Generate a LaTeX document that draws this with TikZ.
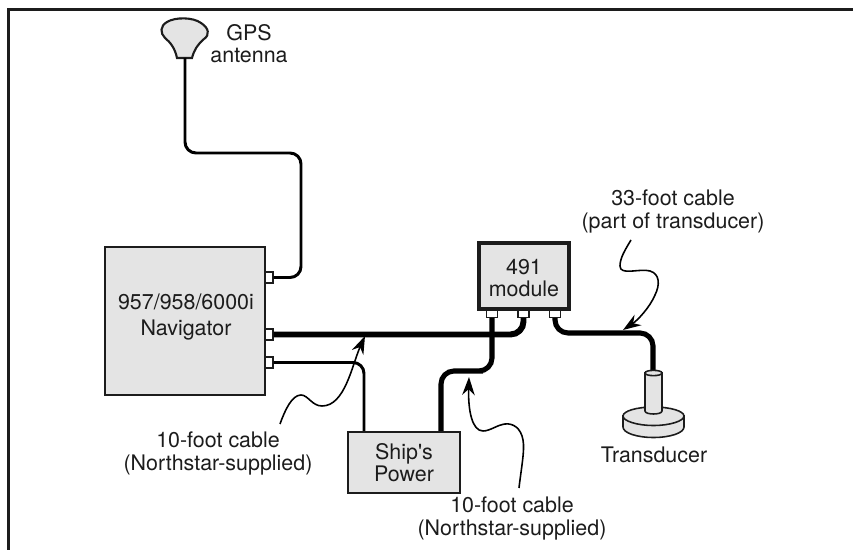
\documentclass[tikz,border=0pt]{standalone}
\usepackage{fontspec}
\setmainfont{TeX Gyre Heros}
\usetikzlibrary{arrows.meta}
\definecolor{boxgray}{HTML}{E4E4E4}
\definecolor{inkblack}{HTML}{1C1C1C}
\tikzset{
  lab/.style       = {align=center, inner sep=0pt, text=inkblack,
                      font=\fontsize{12.2}{12.6}\selectfont},
  unit/.style      = {lab, draw=inkblack, fill=boxgray, line width=0.9pt},
  port/.style      = {draw=inkblack, fill=white, line width=0.8pt, inner sep=0pt},
  navport/.style   = {port, minimum width=1.6mm, minimum height=2.2mm},
  modport/.style   = {port, minimum width=2.2mm, minimum height=1.4mm},
  thincable/.style = {draw=black, line width=1.7pt, rounded corners=2.2mm},
  thickcable/.style= {draw=black, line width=3.4pt, rounded corners=2.6mm},
  midcable/.style  = {draw=black, line width=2.9pt, rounded corners=2.6mm},
  lead/.style      = {draw=black, line width=0.9pt,
                      -{Stealth[length=3.6mm,width=2.5mm]}},
  part/.style      = {draw=inkblack, fill=boxgray, line width=0.9pt},
}

\begin{document}
\begin{tikzpicture}[x=0.02cm, y=-0.02cm]
\useasboundingbox (0,0) rectangle (853,550);
\draw[inkblack, line width=1.7pt] (8.5,550) -- (8.5,9.5) -- (853,9.5);

\node[unit, minimum width=3.2cm, minimum height=2.96cm] (nav) at (185,321) {};
\node[lab] (navlab) at (186,317) {957/958/6000i\\[2.2pt]Navigator};
\node[unit, line width=2.3pt, minimum width=1.8cm, minimum height=1.32cm] (mod) at (524,276) {};
\node[lab] (modlab) at (524,278) {491\\module};
\node[unit, minimum width=2.24cm, minimum height=1.22cm] (power) at (404,462.5) {Ship\textquotesingle s\\Power};

\node[navport] (navgps) at (269,277.5) {};
\node[navport] (navmod) at (269,334.5) {};
\node[navport] (navpow) at (269,362.5) {};
\node[modport] (modpow) at (492,314) {};
\node[modport] (modnav) at (523.5,314) {};
\node[modport] (modtrans) at (555,314) {};

\coordinate (antbase) at (185,58);
\coordinate (gpsbend) at (301,153);
\coordinate (powthin) at (364,431);
\coordinate (powthick) at (441,431);
\coordinate (powbend) at (470,371);
\coordinate (transbend) at (600,333);
\coordinate (stemtop) at (653,371);

% antenna
\draw[part, line width=1.2pt] (177,58) .. controls (175,48) and (170,42) .. (165,38)
  .. controls (160,33) and (160,26) .. (167,22)
  .. controls (175,17) and (193,17) .. (201,23)
  .. controls (209,28) and (210,35) .. (204,39)
  .. controls (198,44) and (194,50) .. (192,58) -- cycle;
\node[lab] (gpslab) at (249,44) {GPS\\antenna};

% cables
\draw[thincable] (navgps.east) -| (gpsbend) -| (antbase);
\draw[thickcable] (navmod.east) -| (modnav.south);
\draw[thincable] (navpow.east) -| (powthin);
\draw[midcable] (powthick) |- (powbend) -| (modpow.south);
\draw[midcable] (modtrans.south) |- (transbend) -| (stemtop);

% transducer
\draw[part] (623,416) -- (623,427) .. controls (623,433) and (637,437.5) .. (653.5,437.5)
  .. controls (670,437.5) and (684,433) .. (684,427) -- (684,416) -- cycle;
\draw[part] (623,416) .. controls (623,411) and (637,407) .. (653.5,407)
  .. controls (670,407) and (684,411) .. (684,416)
  .. controls (684,421) and (670,425.5) .. (653.5,425.5)
  .. controls (637,425.5) and (623,421) .. (623,416) -- cycle;
\draw[part] (645,373) -- (645,411) .. controls (645,415) and (662,415) .. (662,411) -- (662,373) -- cycle;
\draw[part] (645,373) .. controls (645,369.5) and (662,369.5) .. (662,373)
  .. controls (662,376.5) and (645,376.5) .. (645,373) -- cycle;
\node[lab] (translab) at (654,455) {Transducer};

% labels and leaders
\node[lab] (lab33) at (673,211.5) {33-foot cable\\(part of transducer)};
\node[lab] (labnav) at (218,453.5) {10-foot cable\\(Northstar-supplied)};
\node[lab] (labpow) at (512,518.5) {10-foot cable\\(Northstar-supplied)};

\coordinate (tip33) at (623,330);
\coordinate (tipnav) at (365,336);
\coordinate (tippow) at (469,377);

\draw[lead] (631,240) .. controls (625,250) and (620,258) .. (620,266)
  .. controls (620,276) and (640,268) .. (650,271)
  .. controls (660,274) and (660,285) .. (655,295)
  .. controls (650,307) and (638,320) .. (tip33);
\draw[lead] (280,424) .. controls (285,410) and (292,395) .. (301,395)
  .. controls (308,395) and (312,406) .. (322,406)
  .. controls (345,406) and (352,365) .. (tipnav);
\draw[lead] (519,488) .. controls (521,470) and (525,450) .. (523,440)
  .. controls (521,428) and (513,423) .. (505,424)
  .. controls (497,425) and (490,431) .. (483,431)
  .. controls (472,431) and (468,410) .. (tippow);
\end{tikzpicture}
\end{document}
